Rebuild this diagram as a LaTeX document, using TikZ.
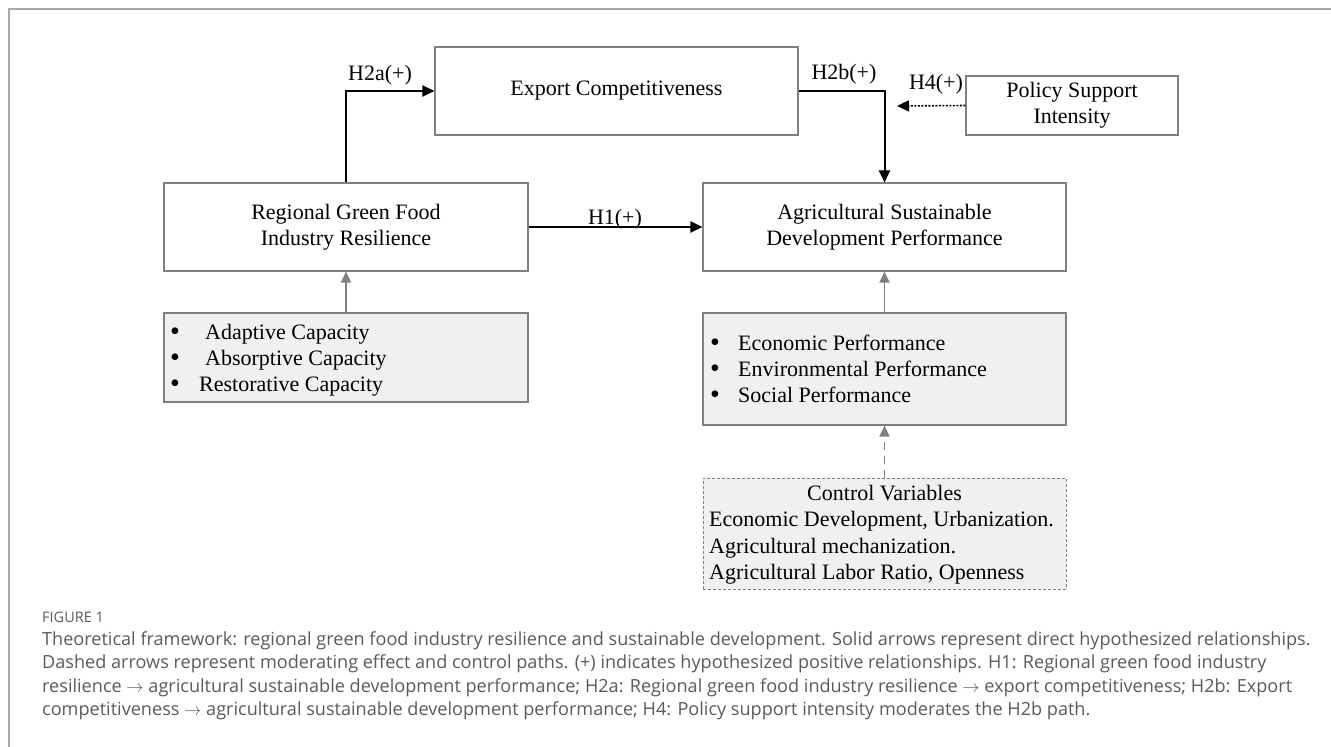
\documentclass[tikz,border=0pt]{standalone}
\usepackage{fontspec}
\setmainfont{Liberation Serif}
\newfontfamily\capfont[Ligatures=NoCommon]{Open Sans}
\usetikzlibrary{arrows.meta}
\definecolor{boxgray}{HTML}{808080}
\definecolor{fillgray}{HTML}{F0F0F0}
\definecolor{captxt}{HTML}{5A5A5A}
\definecolor{framegray}{HTML}{A8A8A8}
\tikzset{
  box/.style={draw=boxgray, line width=1.1pt, fill=white},
  gbox/.style={draw=boxgray, line width=1.1pt, fill=fillgray},
  dbox/.style={draw=boxgray, line width=0.9pt, fill=fillgray, dash pattern=on 3pt off 2pt},
  boxtext/.style={font=\fontsize{22}{26}\selectfont, align=center, inner sep=0pt},
  itemtext/.style={font=\fontsize{22}{26}\selectfont, inner sep=0pt, anchor=base west},
  bulnode/.style={font=\fontsize{28}{26}\selectfont, inner sep=0pt, anchor=base west, text height=11pt, text depth=0pt},
  lbl/.style={font=\fontsize{22}{26}\selectfont, inner sep=0pt},
  mainarrow/.style={line width=2pt, -{Triangle[length=12pt,width=11pt]}},
  dotarrow/.style={line width=1.6pt, dash pattern=on 2pt off 1.5pt, -{Triangle[length=12pt,width=11pt]}},
  grayarrow/.style={draw=boxgray, line width=1.6pt, -{Triangle[length=11pt,width=10pt]}},
  graydash/.style={draw=boxgray, line width=1.6pt, dash pattern=on 8pt off 6pt, -{Triangle[length=11pt,width=10pt]}},
  captext/.style={font=\capfont\fontsize{18.1}{23}\selectfont, text=captxt, inner sep=0pt, anchor=mid west},
}
\begin{document}
\begin{tikzpicture}[x=1pt,y=-1pt]
\useasboundingbox (0,0) rectangle (1331,747);
% outer frame (top and left)
\draw[framegray, line width=1.2pt] (9,747) -- (9,9) -- (1331,9);

% boxes
\node[box, minimum width=363pt, minimum height=88pt] (exp) at (616.5,91) {};
\node[boxtext] (expt) at (exp.center) {Export Competitiveness};
\node[box, minimum width=212pt, minimum height=59pt] (pol) at (1072,105.5) {};
\node[boxtext] (polt) at (pol.center) {Policy Support\\Intensity};
\node[box, minimum width=364pt, minimum height=88pt] (reg) at (346,227) {};
\node[boxtext] (regt) at (reg.center) {Regional Green Food\\Industry Resilience};
\node[box, minimum width=363pt, minimum height=88pt] (agr) at (884.5,227) {};
\node[boxtext] (agrt) at (agr.center) {Agricultural Sustainable\\Development Performance};

\node[gbox, minimum width=364pt, minimum height=89pt] (bl) at (346,357.5) {};
\node[gbox, minimum width=363pt, minimum height=112pt] (br) at (884.5,369) {};
\node[dbox, minimum width=363pt, minimum height=111pt] (ctl) at (884.5,533.5) {};

% left bullet list
\node[bulnode] (bl1d) at (170,340) {\textbullet};
\node[itemtext] (bl1) at (205,339) {Adaptive Capacity};
\node[bulnode] (bl2d) at (170,366) {\textbullet};
\node[itemtext] (bl2) at (205,365) {Absorptive Capacity};
\node[bulnode] (bl3d) at (170,392) {\textbullet};
\node[itemtext] (bl3) at (199,391) {Restorative Capacity};

% right bullet list
\node[bulnode] (br1d) at (710,351) {\textbullet};
\node[itemtext] (br1) at (738,350) {Economic Performance};
\node[bulnode] (br2d) at (710,377) {\textbullet};
\node[itemtext] (br2) at (738,376) {Environmental Performance};
\node[bulnode] (br3d) at (710,403) {\textbullet};
\node[itemtext] (br3) at (738,402) {Social Performance};

% control variables
\node[lbl, anchor=base] (c0) at (884.5,500) {Control Variables};
\node[itemtext] (c1) at (709,526) {Economic Development, Urbanization.};
\node[itemtext] (c2) at (709,553) {Agricultural mechanization.};
\node[itemtext] (c3) at (709,579) {Agricultural Labor Ratio, Openness};

% connectors
\draw[mainarrow] (reg.north) |- (exp.west);
\draw[mainarrow] (exp.east) -| (agr.north);
\draw[mainarrow] (reg.east) -- (agr.west);
\coordinate (h4end) at (897,106);
\draw[dotarrow] (pol.west) -- (h4end);
\draw[grayarrow] (bl.north) -- (reg.south);
\draw[grayarrow] (br.north) -- (agr.south);
\draw[graydash] (ctl.north) -- (br.south);

% labels
\node[lbl, anchor=base] (h2a) at (380,80) {H2a(+)};
\node[lbl, anchor=base] (h2b) at (844,79) {H2b(+)};
\node[lbl, anchor=base] (h4) at (936,89) {H4(+)};
\node[lbl, anchor=base] (h1) at (615,224) {H1(+)};

% caption
\node[captext, font=\capfont\fontsize{14.5}{18}\selectfont] (figl) at (42,620) {FIGURE 1};
\node[captext] (cap1) at (42,643) {Theoretical framework: regional green food industry resilience and sustainable development. Solid arrows represent direct hypothesized relationships.};
\node[captext] (cap2) at (42,666.5) {Dashed arrows represent moderating effect and control paths. (+) indicates hypothesized positive relationships. H1: Regional green food industry};
\node[captext] (cap3) at (42,690) {resilience \(\rightarrow\) agricultural sustainable development performance; H2a: Regional green food industry resilience \(\rightarrow\) export competitiveness; H2b: Export};
\node[captext] (cap4) at (42,713.5) {competitiveness \(\rightarrow\) agricultural sustainable development performance; H4: Policy support intensity moderates the H2b path.};
\end{tikzpicture}
\end{document}
